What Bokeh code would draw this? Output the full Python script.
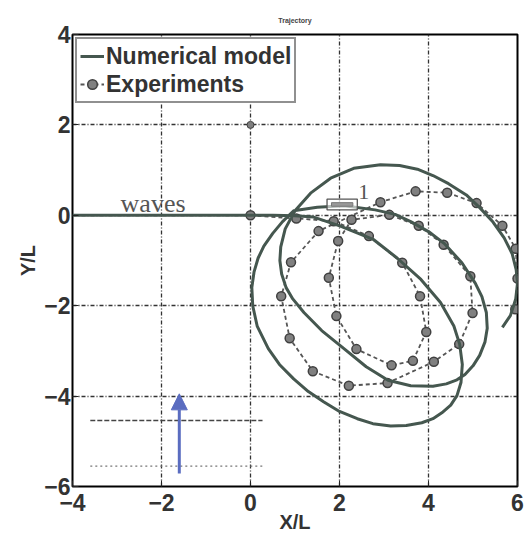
from bokeh.plotting import figure
from bokeh.models import (Range1d, FixedTicker, Legend, LegendItem, Label, Arrow, NormalHead)
from bokeh.embed import file_html
from bokeh.resources import INLINE

# ---------------- data ----------------
x_ticks = [-4, -2, 0, 2, 4, 6]
x_tick_labels = ["\u22124", "\u22122", "0", "2", "4", "6"]
y_ticks = [-6, -4, -2, 0, 2, 4]
y_tick_labels = ["\u22126", "\u22124", "\u22122", "0", "2", "4"]

# numerical model trajectory
num_x = [-4.0, 0.5, 1.0, 1.42, 2.02, 2.77, 3.3, 3.83, 4.27, 4.57, 4.7, 4.76, 4.73, 4.64,
         4.5, 4.3, 4.1, 3.85, 3.5, 3.15, 2.75, 2.4, 2.0, 1.65, 1.3, 0.97, 0.65, 0.4, 0.15,
         0.05, 0.03, 0.08, 0.17, 0.3, 0.5, 0.72, 0.97, 1.5, 2.1, 2.8, 3.25, 3.6, 4.0, 4.35,
         4.75, 5.05, 5.2, 5.3, 5.32, 5.27, 5.15, 5.0, 4.82, 4.64, 4.4, 4.1, 3.6, 3.09, 2.6,
         2.1, 1.6, 1.2, 0.95, 0.8, 0.7, 0.66, 0.68, 0.78, 1.0, 1.35, 1.8, 2.32, 2.92, 3.35,
         3.75, 4.1, 4.45, 4.85, 5.15, 5.45, 5.7, 5.88, 5.97, 6.0, 5.96, 5.84, 5.66]
num_y = [0.0, 0.0, -0.01, -0.04, -0.24, -0.54, -0.95, -1.42, -1.93, -2.45, -2.85, -3.3, -3.7, -3.99,
         -4.2, -4.37, -4.5, -4.59, -4.65, -4.66, -4.61, -4.5, -4.34, -4.13, -3.9, -3.62, -3.3, -2.95, -2.45,
         -2.0, -1.6, -1.25, -0.95, -0.68, -0.4, -0.14, 0.1, 0.18, 0.21, 0.12, 0.02, -0.14, -0.36, -0.62,
         -1.05, -1.5, -1.8, -2.15, -2.5, -2.8, -3.1, -3.33, -3.52, -3.64, -3.73, -3.78, -3.77, -3.65, -3.35,
         -2.95, -2.55, -2.15, -1.85, -1.6, -1.3, -1.0, -0.7, -0.3, 0.1, 0.49, 0.82, 1.04, 1.12, 1.1,
         1.02, 0.88, 0.7, 0.45, 0.17, -0.15, -0.5, -0.85, -1.2, -1.5, -1.85, -2.22, -2.48]

# experiments
exp_x = [0.0, 1.03, 1.87, 2.66, 3.41, 3.81, 3.95, 3.65, 3.17, 2.38, 1.93, 1.76, 1.97,
         2.27, 3.12, 3.78, 4.34, 4.94, 4.99, 4.69, 4.12, 3.08, 2.21, 1.40, 0.88, 0.69,
         0.91, 1.53, 2.92, 3.71, 4.42, 5.08, 5.66, 5.96, 6.0, 5.95]
exp_y = [0.0, -0.07, -0.13, -0.46, -1.05, -1.79, -2.58, -3.22, -3.32, -2.96, -2.23, -1.38, -0.57,
         -0.10, 0.01, -0.23, -0.65, -1.35, -2.16, -2.85, -3.24, -3.71, -3.77, -3.45, -2.72, -1.79,
         -1.04, -0.35, 0.29, 0.53, 0.50, 0.27, -0.23, -0.74, -1.40, -2.08]

extra_x = [0.0]
extra_y = [2.0]

# annotations
waves_x, waves_y = -2.92, -0.07
box_left, box_right, box_bottom, box_top = [1.72], [2.40], [0.12], [0.36]
bar_left, bar_right, bar_bottom, bar_top = [1.82], [2.30], [0.20], [0.28]
one_x, one_y = 2.42, 0.36
arrow_x, arrow_y0, arrow_y1 = -1.6, -5.71, -3.95
dash1_x = [-3.6, 0.27]
dash1_y = [-4.54, -4.54]
dash2_x = [-3.6, 0.27]
dash2_y = [-5.55, -5.55]

# ---------------- figure ----------------
p = figure(width=525, height=535, output_backend="svg", toolbar_location=None,
           x_range=Range1d(-4, 6), y_range=Range1d(-6, 4),
           min_border_left=72, min_border_right=8, min_border_top=34, min_border_bottom=47)
p.background_fill_color = "white"
p.border_fill_color = "white"
p.outline_line_color = "black"
p.outline_line_width = 2

p.title.text = "Trajectory"
p.title.align = "center"
p.title.text_font_size = "7px"
p.title.text_font = "Liberation Sans"
p.title.text_color = "#444"
p.title.standoff = 22

for ax, ticks, labels in ((p.xaxis[0], x_ticks, x_tick_labels), (p.yaxis[0], y_ticks, y_tick_labels)):
    ax.ticker = FixedTicker(ticks=ticks)
    ax.major_label_overrides = {t: l for t, l in zip(ticks, labels)}
    ax.major_label_text_font = "Liberation Sans"
    ax.major_label_text_font_style = "bold"
    ax.major_label_text_font_size = "23px"
    ax.major_label_text_color = "#333"
    ax.axis_line_color = None
    ax.major_tick_in = 6
    ax.major_tick_out = 0
    ax.major_tick_line_color = "#222"
    ax.minor_tick_line_color = None
    ax.axis_label_text_font = "Liberation Sans"
    ax.axis_label_text_font_style = "bold"
    ax.axis_label_text_font_size = "20px"
    ax.axis_label_text_color = "#333"
p.xaxis.major_label_standoff = 7
p.yaxis.major_label_standoff = 2
p.xaxis.axis_label = "X/L"
p.yaxis.axis_label = "Y/L"
p.xaxis.axis_label_standoff = -3
p.yaxis.axis_label_standoff = 2

p.xgrid.ticker = FixedTicker(ticks=x_ticks)
p.ygrid.ticker = FixedTicker(ticks=y_ticks)
p.grid.grid_line_color = "#333"
p.grid.grid_line_width = 1.3
p.grid.grid_line_dash = "4 2 1 2"

# helper lines at bottom left
p.line(dash1_x, dash1_y, line_color="#444", line_width=1.3, line_dash="5 2")
p.line(dash2_x, dash2_y, line_color="#777", line_width=1.3, line_dash="2 3")

# experiments
exp_line = p.line(exp_x, exp_y, line_color="#555", line_width=1.8, line_dash="4 3")
exp_pts = p.scatter(exp_x, exp_y, marker="circle", size=9, fill_color="#808080",
                    line_color="#404040", line_width=1.5)
p.scatter(extra_x, extra_y, marker="circle", size=7, fill_color="#808080", line_color="#404040")

# numerical model
num_line = p.line(num_x, num_y, line_color="#45574f", line_width=3, line_join="round")

# body box and label
p.quad(left=box_left, right=box_right, bottom=box_bottom, top=box_top,
       fill_color="white", fill_alpha=0.6, line_color="#555", line_width=1.3)
p.quad(left=bar_left, right=bar_right, bottom=bar_bottom, top=bar_top,
       fill_color="#999", line_color="#777", line_width=1)
p.add_layout(Label(x=one_x, y=one_y, text="1", text_font="Liberation Serif",
                   text_font_size="22px", text_color="#555"))

p.add_layout(Label(x=waves_x, y=waves_y, text="waves", text_font="Liberation Serif",
                   text_font_size="26px", text_color="#555"))

p.add_layout(Arrow(end=NormalHead(size=16, fill_color="#5a6cc0", line_color="#5a6cc0"),
                   x_start=arrow_x, y_start=arrow_y0, x_end=arrow_x, y_end=arrow_y1,
                   line_color="#5a6cc0", line_width=3))

legend = Legend(items=[LegendItem(label="Numerical model", renderers=[num_line]),
                       LegendItem(label="Experiments", renderers=[exp_line, exp_pts])],
                location="top_left")
legend.margin = 3
legend.padding = 3
legend.spacing = 0
legend.glyph_width = 24
legend.glyph_height = 28
legend.label_standoff = 2
legend.label_height = 28
legend.label_text_font = "Liberation Sans"
legend.label_text_font_style = "bold"
legend.label_text_font_size = "23px"
legend.label_text_color = "#333"
legend.border_line_color = "#222"
legend.border_line_width = 2
legend.background_fill_color = "white"
legend.background_fill_alpha = 1
p.add_layout(legend)

open("out.html", "w").write(file_html(p, INLINE))
